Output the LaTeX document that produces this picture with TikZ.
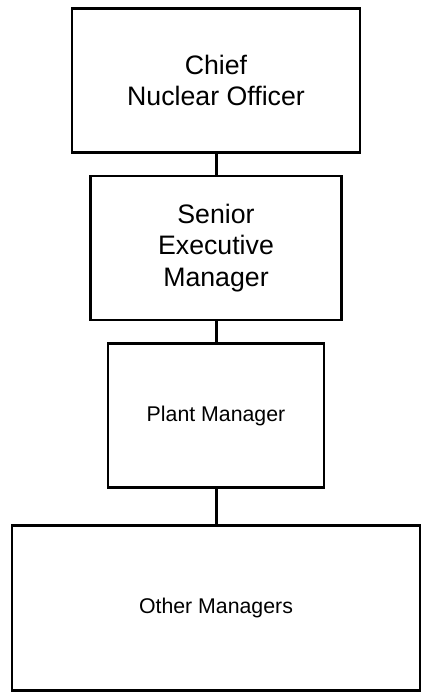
\documentclass[tikz,border=0pt]{standalone}
\usepackage{fontspec}
\setmainfont{Liberation Sans}
\usetikzlibrary{positioning}

\begin{document}
\begin{tikzpicture}[x=1pt,y=1pt,
  post/.style={draw,line width=2.8pt,inner sep=0pt,outer sep=0pt,align=center},
  big/.style={font=\fontsize{26.7}{31.5}\selectfont},
  small/.style={font=\fontsize{21.3}{25}\selectfont}]
  \useasboundingbox (0,0) rectangle (423,-694);
  \node[post,big,minimum width=288pt,minimum height=144pt] (cno) at (216,-80.5) {Chief\\Nuclear Officer};
  \node[post,big,minimum width=251pt,minimum height=144pt] (sem) [below=23.5pt of cno] {Senior\\Executive\\Manager};
  \node[post,small,minimum width=216pt,minimum height=144pt] (pm) [below=23.5pt of sem] {Plant Manager};
  \node[post,small,minimum width=408pt,minimum height=165pt] (om) [below=38pt of pm] {Other Managers};
  \path[draw,line width=3pt]
    (cno) -- (sem)
    (sem) -- (pm)
    (pm) -- (om);
\end{tikzpicture}
\end{document}
